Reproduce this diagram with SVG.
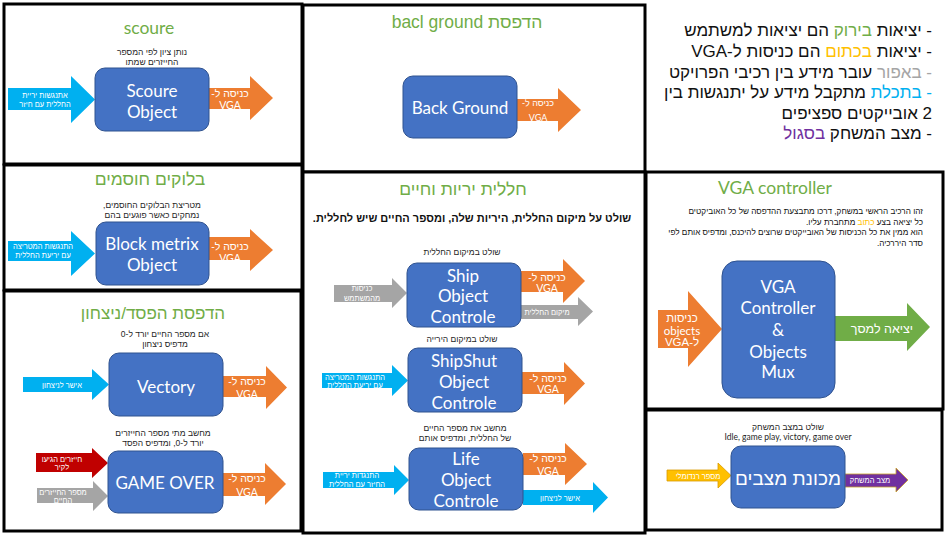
<svg xmlns="http://www.w3.org/2000/svg" width="948" height="540" viewBox="0 0 948 540">
<style>
text { font-family: Lato, "Liberation Sans", "DejaVu Sans", sans-serif; }
.he { font-family: "Liberation Sans", "DejaVu Sans", sans-serif; direction: rtl; }
.panel { fill: #fff; stroke: #000; stroke-width: 3; }
.box { fill: #4472C4; stroke: #2F528F; stroke-width: 1; }
.bt { fill: #fff; font-size: 17px; text-anchor: middle; dominant-baseline: central; }
.title { fill: #70AD47; font-size: 17.5px; text-anchor: middle; dominant-baseline: central; }
.sub { fill: #262626; font-size: 8.5px; text-anchor: middle; dominant-baseline: central; }
.al { fill: #fff; font-size: 7.5px; text-anchor: middle; dominant-baseline: central; }
.ao { fill: #fff; font-size: 10.5px; text-anchor: middle; dominant-baseline: central; }
.leg { fill: #111; font-size: 17px; text-anchor: start; dominant-baseline: central; }
.par { fill: #111; font-size: 8.2px; text-anchor: start; dominant-baseline: central; }
.cyan { fill: #00B0F0; }
.orange { fill: #ED7D31; }
.grey { fill: #A5A5A5; }
.red { fill: #C00000; }
.yellow { fill: #FFC000; stroke: #D99A00; stroke-width: 0.8; }
.purple { fill: #7030A0; stroke: #C9A227; stroke-width: 0.8; }
.green { fill: #70AD47; }
</style>
<rect width="948" height="540" fill="#fff"/>

<g id="panels">
<rect class="panel" x="4" y="4" width="298" height="160"/>
<rect class="panel" x="4" y="165" width="298" height="125"/>
<rect class="panel" x="4" y="291" width="297" height="240"/>
<rect class="panel" x="303" y="5" width="342" height="167"/>
<rect class="panel" x="303" y="172" width="342" height="361"/>
<rect class="panel" x="646" y="172" width="297" height="237"/>
<rect class="panel" x="646" y="410" width="296" height="120"/>
</g>

<g id="titles">
<text class="title" x="149" y="27">scoure</text>
<text class="title he" x="150" y="179">בלוקים חוסמים</text>
<text class="title he" x="153" y="313" style="font-size:17px">הדפסת הפסד/ניצחון</text>
<text class="title he" x="467" y="22">הדפסת bacl ground</text>
<text class="title he" x="463" y="189">חללית יריות וחיים</text>
<text class="title" x="775" y="187">VGA controller</text>
</g>

<g id="legend">
<text class="leg he" x="932" y="30">- יציאות <tspan fill="#70AD47">בירוק</tspan> הם יציאות למשתמש</text>
<text class="leg he" x="932" y="51">- יציאות <tspan fill="#FFC000">בכתום</tspan> הם כניסות ל-VGA</text>
<text class="leg he" x="932" y="72"><tspan fill="#A5A5A5">- באפור</tspan> עובר מידע בין רכיבי הפרויקט</text>
<text class="leg he" x="932" y="92"><tspan fill="#00B0F0">- בתכלת</tspan> מתקבל מידע על יתנגשות בין</text>
<text class="leg he" x="932" y="113">2 אובייקטים ספציפים</text>
<text class="leg he" x="932" y="133">- מצב המשחק <tspan fill="#7030A0">בסגול</tspan></text>
</g>

<g id="connectors">
<polygon class="cyan" points="8,88 71,88 71,76 95,99.5 71,123 71,110 8,110"/>
<polygon class="orange" points="209,88 250,88 250,76 273,98 250,120 250,109 209,109"/>
<polygon class="cyan" points="8,241 71,241 71,231 95,253.5 71,276 71,261 8,261"/>
<polygon class="orange" points="209,237 250,237 250,229 273,250 250,271 250,260 209,260"/>
<polygon class="cyan" points="23,377 92,377 92,369 109,384.5 92,400 92,392 23,392"/>
<polygon class="orange" points="223,376 266,376 266,366 287,387.5 266,409 266,397 223,397"/>
<polygon class="red" points="36,453 92,453 92,448 108,463 92,478 92,472 36,472"/>
<polygon class="grey" points="37,488 93,488 93,481 108,496 93,511 93,503 37,503"/>
<polygon class="orange" points="223,473 265,473 265,463 286,484 265,505 265,496 223,496"/>
<polygon class="orange" points="517,99 558,99 558,88 581,110 558,132 558,121 517,121"/>
<polygon class="grey" points="334,285 392,285 392,278 407,293 392,308 392,302 334,302"/>
<polygon class="orange" points="521,271 563,271 563,259 585,281 563,303 563,292 521,292"/>
<polygon class="grey" points="521,305 578,305 578,297 593,311.5 578,326 578,319 521,319"/>
<polygon class="cyan" points="322,373 392,373 392,365 408,380.5 392,396 392,388 322,388"/>
<polygon class="orange" points="522,372 564,372 564,362 585,383.5 564,405 564,394 522,394"/>
<polygon class="cyan" points="323,472 394,472 394,465 409,480 394,495 394,488 323,488"/>
<polygon class="orange" points="523,453 565,453 565,443 587,464 565,485 565,475 523,475"/>
<polygon class="cyan" points="523,490 593,490 593,482 608,497.5 593,513 593,505 523,505"/>
<polygon class="orange" points="658,310 688,310 688,291 722,329 688,367 688,348 658,348"/>
<polygon class="green" points="835,316 907,316 907,303 930,327 907,351 907,341 835,341"/>
<polygon class="yellow" points="667,470 718,470 718,463 731,475.5 718,488 718,481 667,481"/>
<polygon class="purple" points="845,474 896,474 896,468 908,480 896,492 896,487 845,487"/>

<text class="al he" x="45" y="95">אתנגשות יריית</text>
<text class="al he" x="45" y="104">החללית עם  חיזר</text>
<text class="ao he" x="230" y="93">כניסה ל-</text>
<text class="ao" x="230" y="105">VGA</text>
<text class="al he" x="43" y="246">התנגשות המטריצה</text>
<text class="al he" x="43" y="255">עם יריעת החללית</text>
<text class="al he" x="43" y="263">או החזרים</text>
<text class="ao he" x="230" y="246">כניסה ל-</text>
<text class="ao" x="230" y="258">VGA</text>
<text class="al he" x="62" y="385">אישר לניצחון</text>
<text class="ao he" x="247" y="381">כניסה ל-</text>
<text class="ao" x="247" y="394">VGA</text>
<text class="al he" x="62" y="459">חייזרים הגיעו</text>
<text class="al he" x="62" y="467">לקיר</text>
<text class="al he" x="63" y="492">מספר החייזרים</text>
<text class="al he" x="63" y="500">החיים</text>
<text class="ao he" x="247" y="478">כניסה ל-</text>
<text class="ao" x="247" y="492">VGA</text>
<text class="al he" x="538" y="103" style="font-size:9px">כניסה ל-</text>
<text class="al" x="538" y="117" style="font-size:9px">VGA</text>
<text class="al he" x="362" y="288">כניסות</text>
<text class="al he" x="362" y="298">מהמשתמש</text>
<text class="ao he" x="547" y="277">כניסה ל-</text>
<text class="ao" x="547" y="288">VGA</text>
<text class="al he" x="547" y="312">מיקום החללית</text>
<text class="al he" x="355" y="377">התנגשות המטריצה</text>
<text class="al he" x="355" y="385">עם יריעת החללית</text>
<text class="ao he" x="548" y="378">כניסה ל-</text>
<text class="ao" x="548" y="389">VGA</text>
<text class="al he" x="357" y="475">התנגדות יריית</text>
<text class="al he" x="357" y="484">החיזר עם  החללית</text>
<text class="ao he" x="548" y="458">כניסה ל-</text>
<text class="ao" x="548" y="471">VGA</text>
<text class="al he" x="560" y="498">אישר לניצחון</text>
<text class="ao he" x="682" y="318" style="font-size:11.5px">כניסות</text>
<text class="ao" x="682" y="330" style="font-size:11.5px">objects</text>
<text class="ao he" x="682" y="342" style="font-size:11.5px">ל-VGA</text>
<text class="ao he" x="882" y="329" style="font-size:12.5px">יציאה למסך</text>
<text class="al he" x="698" y="476">מספר רנדומלי</text>
<text class="al he" x="870" y="480">מצב המשחק</text>
</g>

<g id="node-scoure">
<text class="sub he" x="152" y="52">נותן ציון לפי המספר</text>
<text class="sub he" x="152" y="62">החייזרים שמתו</text>
<rect class="box" x="95" y="68" width="114" height="63" rx="10"/>
<text class="bt" x="152" y="90">Scoure</text>
<text class="bt" x="152" y="111">Object</text>
</g>

<g id="node-block">
<text class="sub he" x="152" y="205">מטריצת הבלוקים החוסמים,</text>
<text class="sub he" x="152" y="215">נמחקים כאשר פוגעים בהם</text>
<rect class="box" x="96" y="222" width="113" height="63" rx="10"/>
<text class="bt" x="152" y="243">Block metrix</text>
<text class="bt" x="152" y="264">Object</text>
</g>

<g id="node-vectory">
<text class="sub he" x="165" y="334">אם מספר החיים יורד ל-0</text>
<text class="sub he" x="165" y="344">מדפיס ניצחון</text>
<rect class="box" x="109" y="353" width="114" height="63" rx="10"/>
<text class="bt" x="166" y="386">Vectory</text>
</g>

<g id="node-gameover">
<text class="sub he" x="163" y="433">מחשב מתי מספר החייזרים</text>
<text class="sub he" x="163" y="443">יורד ל-0, ומדפיס הפסד</text>
<rect class="box" x="108" y="451" width="115" height="62" rx="10"/>
<text class="bt" x="165" y="482">GAME OVER</text>
</g>

<g id="node-background">
<rect class="box" x="403" y="76" width="114" height="62" rx="10"/>
<text class="bt" x="460" y="107">Back Ground</text>
</g>

<g id="node-ship">
<text class="he" x="472" y="218" style="font-size:11px;font-weight:bold;text-anchor:middle;dominant-baseline:central;fill:#111">שולט על מיקום החללית, היריות שלה, ומספר החיים שיש לחללית.</text>
<text class="sub he" x="462" y="252">שולט במיקום החללית</text>
<rect class="box" x="407" y="263" width="114" height="64" rx="10"/>
<text class="bt" x="463" y="275">Ship</text>
<text class="bt" x="463" y="295">Object</text>
<text class="bt" x="463" y="316">Controle</text>
</g>

<g id="node-shipshut">
<text class="sub he" x="462" y="339">שולט במיקום הירייה</text>
<rect class="box" x="408" y="348" width="114" height="64" rx="10"/>
<text class="bt" x="464" y="360">ShipShut</text>
<text class="bt" x="464" y="381">Object</text>
<text class="bt" x="464" y="402">Controle</text>
</g>

<g id="node-life">
<text class="sub he" x="465" y="428">מחשב את מספר החיים</text>
<text class="sub he" x="465" y="438">של החללית, ומדפיס אותם</text>
<rect class="box" x="409" y="448" width="114" height="62" rx="10"/>
<text class="bt" x="466" y="458">Life</text>
<text class="bt" x="466" y="479">Object</text>
<text class="bt" x="466" y="500">Controle</text>
</g>

<g id="node-vga">
<text class="par he" x="923" y="211">זהו הרכיב הראשי במשחק, דרכו מתבצעת ההדפסה של כל האוביקטים</text>
<text class="par he" x="923" y="222">כל יציאה בצע <tspan fill="#FFC000">כתוב</tspan> מתחברת עליו.</text>
<text class="par he" x="923" y="232">הוא ממין את כל הכניסות של האובייקטים שרוצים להיכנס, ומדפיס אותם לפי</text>
<text class="par he" x="923" y="243">סדר היררכיה.</text>
<rect class="box" x="722" y="261" width="113" height="137" rx="15"/>
<text class="bt" x="778" y="286">VGA</text>
<text class="bt" x="778" y="307">Controller</text>
<text class="bt" x="778" y="329">&amp;</text>
<text class="bt" x="778" y="351">Objects</text>
<text class="bt" x="778" y="371">Mux</text>
</g>

<g id="node-state">
<text class="sub he" x="788" y="427">שולט במצב המשחק</text>
<text class="sub" x="788" y="437">Idle, game play, victory, game over</text>
<rect class="box" x="731" y="446" width="114" height="62" rx="10"/>
<text class="bt he" x="788" y="478" style="font-size:19px">מכונת מצבים</text>
</g>
</svg>
